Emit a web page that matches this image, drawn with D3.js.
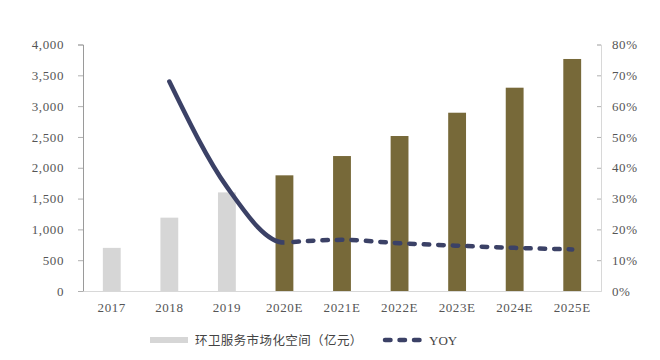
<!DOCTYPE html>
<html><head><meta charset="utf-8">
<script src="https://cdn.jsdelivr.net/npm/d3@7"></script>
<style>
body{margin:0;background:#fff;}
text{font-family:"Liberation Serif","Noto Sans CJK SC",serif;}
</style></head>
<body><svg id="c" width="660" height="360"></svg>
<script>
const categories = ["2017","2018","2019","2020E","2021E","2022E","2023E","2024E","2025E"];
const marketValues = [700,1190,1600,1877,2190,2515,2893,3299,3765];
const yoyValues = [null,0.68,0.338,0.157,0.166,0.155,0.147,0.140,0.135];
const leftTicks = [0,500,1000,1500,2000,2500,3000,3500,4000];
const rightTicks = [0,0.1,0.2,0.3,0.4,0.5,0.6,0.7,0.8];
const barLegend = "环卫服务市场化空间（亿元）";
const lineLegend = "YOY";

const svg = d3.select("#c");
const L = 83, R = 601, T = 44.5, B = 291;
const x = d3.scaleBand().domain(categories).range([L,R]).paddingInner(0.69).paddingOuter(0.345);
const yL = d3.scaleLinear().domain([0,4000]).range([B,T]);
const yR = d3.scaleLinear().domain([0,0.8]).range([B,T]);

// bars
svg.append("g").selectAll("rect").data(categories).join("rect")
  .attr("x", d => x(d)).attr("width", x.bandwidth())
  .attr("y", (d,i) => yL(marketValues[i])).attr("height", (d,i) => B - yL(marketValues[i]))
  .attr("fill", d => d.endsWith("E") ? "#776939" : "#d6d6d6");

// axes
const gL = svg.append("g").attr("transform",`translate(${L},0)`)
  .call(d3.axisLeft(yL).tickValues(leftTicks).tickSize(5).tickPadding(14).tickFormat(d3.format(",")));
const gR = svg.append("g").attr("transform",`translate(${R},0)`)
  .call(d3.axisRight(yR).tickValues(rightTicks).tickSize(-4).tickPadding(11).tickFormat(d3.format(".0%")));
const gB = svg.append("g").attr("transform",`translate(0,${B})`)
  .call(d3.axisBottom(x).tickSize(0).tickPadding(12));
[gL,gR,gB].forEach(g => {
  g.selectAll("text").attr("fill","#555").style("font-size","13px").style("letter-spacing","0.6px");
  g.selectAll("line").attr("stroke","#b0b0b0");
});
gL.select(".domain").attr("stroke","#9a9a9a");
gR.select(".domain").attr("stroke","#d8d8d8");
gB.select(".domain").attr("stroke","#d8d8d8");

// line: one smooth curve, solid for actuals, dashed for forecasts
const pts = categories.map((c,i)=>({c, v:yoyValues[i]})).filter(d=>d.v!==null);
const line = d3.line().x(d => x(d.c)+x.bandwidth()/2).y(d => yR(d.v)).curve(d3.curveMonotoneX);
const splitX = x("2020E")+x.bandwidth()/2;
const defs = svg.append("defs");
defs.append("clipPath").attr("id","cs").append("rect").attr("x",0).attr("y",0).attr("width",splitX).attr("height",360);
defs.append("clipPath").attr("id","cd").append("rect").attr("x",splitX).attr("y",0).attr("width",660-splitX).attr("height",360);
svg.append("path").datum(pts).attr("d",line).attr("fill","none").attr("stroke","#3b4166")
  .attr("stroke-width",4.5).attr("stroke-linecap","round").attr("clip-path","url(#cs)");
svg.append("path").datum(pts.filter(d => x(d.c) >= x("2020E"))).attr("d",line)
  .attr("fill","none").attr("stroke","#3b4166").attr("stroke-width",4.5)
  .attr("stroke-dasharray","5.5,9").attr("stroke-dashoffset",-9).attr("stroke-linecap","round");

// legend
const lg = svg.append("g");
lg.append("rect").attr("x",150).attr("y",337).attr("width",38).attr("height",6).attr("fill","#d6d6d6");
lg.append("text").attr("x",195).attr("y",345).text(barLegend).attr("fill","#444")
  .style("font-family","'Noto Sans CJK SC',sans-serif").style("font-size","12.5px").style("letter-spacing","0.4px");
lg.append("line").attr("x1",385).attr("x2",420).attr("y1",340).attr("y2",340).attr("stroke","#3b4166")
  .attr("stroke-width",4.5).attr("stroke-dasharray","5.5,9").attr("stroke-linecap","round");
lg.append("text").attr("x",429).attr("y",345).text(lineLegend).attr("fill","#444").style("font-size","13px");
</script></body></html>
